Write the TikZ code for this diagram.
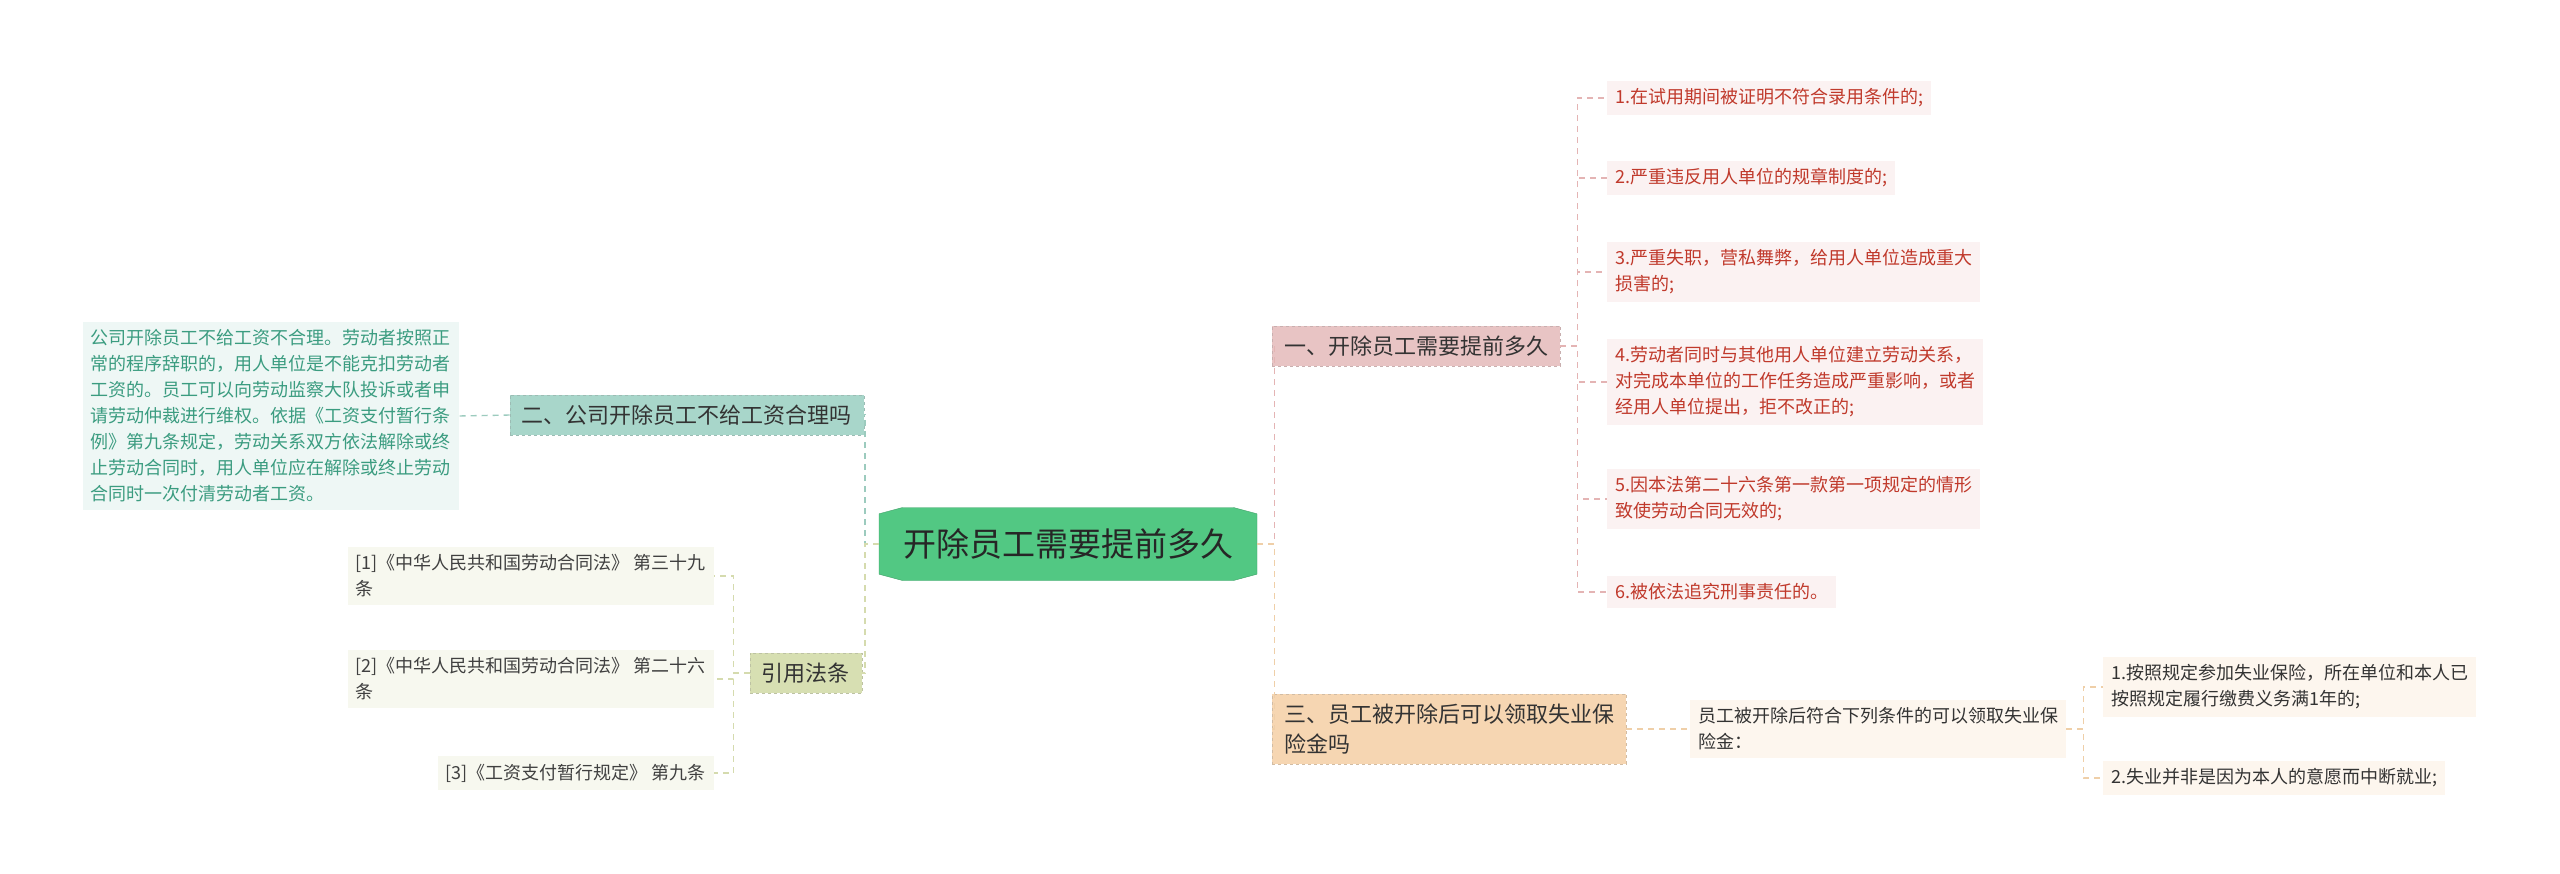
\documentclass[tikz,border=0pt]{standalone}
\usepackage{fontspec}
\setmainfont{Noto Sans CJK SC}
\usetikzlibrary{shapes.misc,shapes.geometric}
\definecolor{rootgreen}{HTML}{52C883}
\definecolor{pinkbox}{HTML}{E8C4C4}
\definecolor{pinkleaf}{HTML}{FBF2F2}
\definecolor{pinktext}{HTML}{C0392B}
\definecolor{pinkline}{HTML}{E4B4B4}
\definecolor{tealbox}{HTML}{A8D6CA}
\definecolor{tealleaf}{HTML}{EEF7F5}
\definecolor{tealtext}{HTML}{3B9C80}
\definecolor{tealline}{HTML}{9CCBBE}
\definecolor{olivebox}{HTML}{D7DFB2}
\definecolor{oliveleaf}{HTML}{F7F8EF}
\definecolor{oliveline}{HTML}{D5DBAE}
\definecolor{orangebox}{HTML}{F6D6B2}
\definecolor{orangeleaf}{HTML}{FDF6EE}
\definecolor{orangeline}{HTML}{EFCFA8}
\tikzset{
  rootnode/.style={chamfered rectangle, chamfered rectangle xsep=10pt, chamfered rectangle angle=75, fill=rootgreen, draw=rootgreen!80!black, font=\fontsize{33}{38}\selectfont, text=black!85, minimum height=73pt, inner xsep=14pt},
  branch/.style={draw=#1!70!gray, dashed, fill=#1, font=\fontsize{22}{30}\selectfont, text=black!80, align=left, inner xsep=12pt, inner ysep=10pt},
  leaf/.style={fill=#1, font=\fontsize{18}{26}\selectfont, align=left, inner xsep=8pt, inner ysep=8pt},
  link/.style={dashed, line width=1.4pt, #1, dash pattern=on 6pt off 5pt},
}
\begin{document}
\begin{tikzpicture}[x=1pt,y=1pt]
  \useasboundingbox (0,0) rectangle (2560,-873);

  % root
  \node[rootnode] (root) at (1068,-544) {开除员工需要提前多久};

  % branches
  \node[branch=pinkbox, anchor=west] (b1) at (1272,-346) {一、开除员工需要提前多久};
  \node[branch=orangebox, anchor=west] (b3) at (1272,-729) {三、员工被开除后可以领取失业保\\险金吗};
  \node[branch=tealbox, anchor=east] (b2) at (864,-415) {二、公司开除员工不给工资合理吗};
  \node[branch=olivebox, anchor=east] (ref) at (862,-673) {引用法条};

  % branch 1 leaves
  \node[leaf=pinkleaf, text=pinktext, anchor=west] (l1) at (1607,-98) {1.在试用期间被证明不符合录用条件的;};
  \node[leaf=pinkleaf, text=pinktext, anchor=west] (l2) at (1607,-178) {2.严重违反用人单位的规章制度的;};
  \node[leaf=pinkleaf, text=pinktext, anchor=west] (l3) at (1607,-272) {3.严重失职，营私舞弊，给用人单位造成重大\\损害的;};
  \node[leaf=pinkleaf, text=pinktext, anchor=west] (l4) at (1607,-382) {4.劳动者同时与其他用人单位建立劳动关系，\\对完成本单位的工作任务造成严重影响，或者\\经用人单位提出，拒不改正的;};
  \node[leaf=pinkleaf, text=pinktext, anchor=west] (l5) at (1607,-499) {5.因本法第二十六条第一款第一项规定的情形\\致使劳动合同无效的;};
  \node[leaf=pinkleaf, text=pinktext, anchor=west] (l6) at (1607,-592) {6.被依法追究刑事责任的。};

  % branch 3 leaves
  \node[leaf=orangeleaf, text=black!80, anchor=west] (c3) at (1690,-729) {员工被开除后符合下列条件的可以领取失业保\\险金：};
  \node[leaf=orangeleaf, text=black!80, anchor=west] (m1) at (2103,-687) {1.按照规定参加失业保险，所在单位和本人已\\按照规定履行缴费义务满1年的;};
  \node[leaf=orangeleaf, text=black!80, anchor=west] (m2) at (2103,-778) {2.失业并非是因为本人的意愿而中断就业;};

  % branch 2 leaf
  \node[leaf=tealleaf, text=tealtext, anchor=east] (t1) at (459,-416) {公司开除员工不给工资不合理。劳动者按照正\\常的程序辞职的，用人单位是不能克扣劳动者\\工资的。员工可以向劳动监察大队投诉或者申\\请劳动仲裁进行维权。依据《工资支付暂行条\\例》第九条规定，劳动关系双方依法解除或终\\止劳动合同时，用人单位应在解除或终止劳动\\合同时一次付清劳动者工资。};

  % references
  \node[leaf=oliveleaf, text=black!75, anchor=east] (r1) at (714,-576) {[1]《中华人民共和国劳动合同法》 第三十九\\条};
  \node[leaf=oliveleaf, text=black!75, anchor=east] (r2) at (714,-679) {[2]《中华人民共和国劳动合同法》 第二十六\\条};
  \node[leaf=oliveleaf, text=black!75, anchor=east] (r3) at (714,-773) {[3]《工资支付暂行规定》 第九条};

  % connectors
  \draw[link=pinkline] (root.east) -- ++(17,0) |- (b1.west);
  \draw[link=orangeline] (root.east) -- ++(17,0) |- (b3.west);
  \draw[link=tealline] (root.west) -- ++(-14,0) |- (b2.east);
  \draw[link=oliveline] (root.west) -- ++(-14,0) |- (ref.east);
  \foreach \n in {l1,l2,l3,l4,l5,l6}
    \draw[link=pinkline] (b1.east) -- ++(17,0) |- (\n.west);
  \draw[link=orangeline] (b3.east) -- (c3.west);
  \foreach \n in {m1,m2}
    \draw[link=orangeline] (c3.east) -- ++(17,0) |- (\n.west);
  \draw[link=tealline] (b2.west) -- (t1.east);
  \foreach \n in {r1,r2,r3}
    \draw[link=oliveline] (ref.west) -- ++(-16,0) |- (\n.east);
\end{tikzpicture}
\end{document}
